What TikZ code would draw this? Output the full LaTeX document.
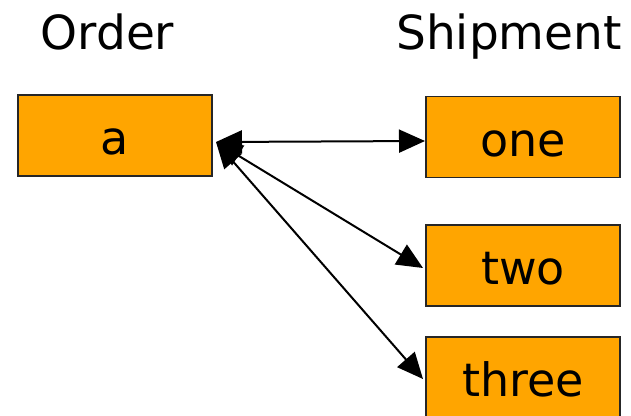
\documentclass[tikz,border=0pt]{standalone}
\usepackage{fontspec}
\setmainfont{DejaVu Sans}
\usetikzlibrary{arrows.meta}
\definecolor{boxorange}{HTML}{FFA500}
\tikzset{
  entity/.style={draw=black!85, line width=1.8pt, fill=boxorange,
    minimum width=194pt, minimum height=81pt, inner sep=0pt,
    text height=58pt, text depth=20pt,
    font=\fontsize{46}{46}\selectfont},
  heading/.style={anchor=base, inner sep=0pt, font=\fontsize{47}{47}\selectfont},
  link/.style={line width=2pt, {Triangle[length=26pt,width=23pt]}-{Triangle[length=26pt,width=23pt]}}
}
\begin{document}
\begin{tikzpicture}[x=1pt,y=-1pt]
  \useasboundingbox (0,0) rectangle (631,415);
  % column headings
  \node[heading] (hOrder) at (107.5,49) {Order};
  \node[heading] (hShip) at (509,49) {Shipment};
  % entities
  \node[entity] (a) at (115,135.5) {a};
  \node[entity] (one) at (523,137) {one};
  \node[entity] (two) at (523,265.5) {two};
  \node[entity] (three) at (523,377.5) {three};
  % connector ends
  \coordinate (src) at (216,142);
  \coordinate (t1) at (425,141);
  \coordinate (t2) at (423,268);
  \coordinate (t3) at (423,379);
  % one order, many shipments
  \draw[link] (src) -- (t1);
  \draw[link] (src) -- (t2);
  \draw[link] (src) -- (t3);
\end{tikzpicture}
\end{document}
